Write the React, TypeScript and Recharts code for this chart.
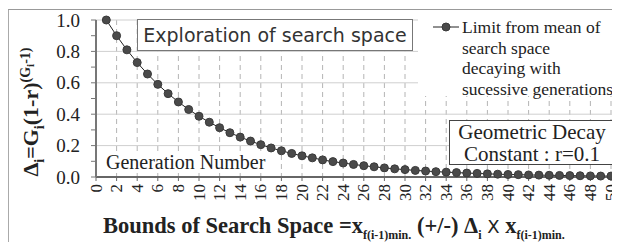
import React from "react";
import { CartesianGrid, Line, LineChart, ReferenceLine, XAxis, YAxis } from "recharts";

const generations = [
  1, 2, 3, 4, 5, 6, 7, 8, 9, 10, 11, 12, 13, 14, 15, 16, 17, 18, 19, 20, 21, 22, 23, 24, 25,
  26, 27, 28, 29, 30, 31, 32, 33, 34, 35, 36, 37, 38, 39, 40, 41, 42, 43, 44, 45, 46, 47, 48, 49, 50,
];
const decayLimit = [
  1.0, 0.9, 0.81, 0.729, 0.656, 0.59, 0.531, 0.478, 0.43, 0.387, 0.349, 0.314, 0.282, 0.254, 0.229,
  0.206, 0.185, 0.167, 0.15, 0.135, 0.122, 0.109, 0.098, 0.089, 0.08, 0.072, 0.065, 0.058, 0.052,
  0.047, 0.042, 0.038, 0.034, 0.031, 0.028, 0.025, 0.023, 0.02, 0.018, 0.016, 0.015, 0.013, 0.012,
  0.011, 0.01, 0.009, 0.008, 0.007, 0.006, 0.006,
];
const xTicks = [0, 2, 4, 6, 8, 10, 12, 14, 16, 18, 20, 22, 24, 26, 28, 30, 32, 34, 36, 38, 40, 42, 44, 46, 48, 50];
const yTicks = [0, 0.1, 0.2, 0.3, 0.4, 0.5, 0.6, 0.7, 0.8, 0.9, 1.0];
const yGrid = [0.2, 0.4, 0.6, 0.8, 1.0];
const legendLines = ["Limit from mean of", "search space", "decaying with", "sucessive generations"];

const data = generations.map((g, i) => ({ g, value: decayLimit[i] }));

const serif = "'Liberation Serif', 'Times New Roman', serif";

function YTick({ x, y, payload }: any) {
  const v = Math.round(payload.value * 10);
  if (v % 2 !== 0) return null;
  return (
    <text x={x} y={y} textAnchor="end" dominantBaseline="central" fontFamily={serif} fontSize={19} fill="#222">
      {payload.value.toFixed(1)}
    </text>
  );
}

function XTick({ x, y, payload }: any) {
  return (
    <text
      x={x}
      y={y}
      transform={`rotate(-90, ${x}, ${y})`}
      textAnchor="end"
      dominantBaseline="central"
      fontFamily={serif}
      fontSize={17}
      fill="#222"
    >
      {payload.value}
    </text>
  );
}

export default function App() {
  return (
    <div style={{ position: "relative", width: 620, height: 242, margin: "-8px 0 0 -8px", background: "#fff", overflow: "hidden" }}>
      <div style={{ position: "absolute", left: 7, top: 9, width: 620, height: 240, borderLeft: "2px solid #aaa", borderTop: "1px solid #999" }} />
      <LineChart width={620} height={242} data={data} margin={{ top: 20, right: 9, bottom: 35, left: 46 }} style={{ position: "absolute", left: 0, top: 0 }}>
        <CartesianGrid horizontal={false} stroke="#b4b4b4" strokeDasharray="5 4" />
        {yGrid.map((v) => (
          <ReferenceLine key={v} y={v} stroke="#cfcfcf" strokeWidth={1} />
        ))}
        <XAxis
          dataKey="g"
          type="number"
          domain={[0, 50]}
          ticks={xTicks}
          interval={0}
          height={30}
          tick={<XTick />}
          tickSize={4}
          tickMargin={3}
          axisLine={{ stroke: "#666", strokeWidth: 2 }}
          tickLine={{ stroke: "#666" }}
        />
        <YAxis
          type="number"
          domain={[0, 1]}
          ticks={yTicks}
          interval={0}
          width={50}
          tick={<YTick />}
          tickSize={5}
          tickMargin={11}
          axisLine={{ stroke: "#777", strokeWidth: 2 }}
          tickLine={{ stroke: "#777" }}
        />
        <Line
          dataKey="value"
          type="linear"
          stroke="#222"
          strokeWidth={1}
          dot={{ r: 4, fill: "#4a4a4a", stroke: "#3a3a3a", strokeWidth: 1 }}
          isAnimationActive={false}
        />
      </LineChart>

      <div
        style={{
          position: "absolute", left: 137, top: 19, width: 274, height: 30, border: "1px solid #777", background: "#fff",
          fontFamily: "'DejaVu Sans', sans-serif", fontSize: 19, color: "#333", textAlign: "center", lineHeight: "30px", whiteSpace: "nowrap",
        }}
      >
        Exploration of search space
      </div>

      <div style={{ position: "absolute", left: 418, top: 11, width: 210, height: 85, background: "#fff" }}>
        <svg width={30} height={20} style={{ position: "absolute", left: 14, top: 6 }}>
          <line x1={1} y1={10} x2={27} y2={10} stroke="#222" strokeWidth={1} />
          <circle cx={14} cy={10} r={4} fill="#4a4a4a" stroke="#3a3a3a" />
        </svg>
        <div style={{ position: "absolute", left: 44, top: 6, fontFamily: serif, fontSize: 17.5, lineHeight: "20.5px", color: "#222", whiteSpace: "nowrap" }}>
          {legendLines.map((l) => (
            <div key={l}>{l}</div>
          ))}
        </div>
      </div>

      <div style={{ position: "absolute", left: 106, top: 152, background: "#fff", fontFamily: serif, fontSize: 20, lineHeight: "21px", color: "#222", whiteSpace: "nowrap" }}>
        Generation Number
      </div>

      <div
        style={{
          position: "absolute", left: 449, top: 120, width: 164, height: 43, border: "1px solid #444", background: "#fff",
          fontFamily: serif, fontSize: 21, lineHeight: "22px", color: "#222", textAlign: "center", whiteSpace: "nowrap",
        }}
      >
        <div>Geometric Decay</div>
        <div>Constant : r=0.1</div>
      </div>

      <div
        style={{
          position: "absolute", left: 33, top: 112, transform: "translate(-50%, -50%) rotate(-90deg)", whiteSpace: "nowrap",
          fontFamily: serif, fontWeight: "bold", fontSize: 22, color: "#222",
        }}
      >
        Δ<sub style={{ fontSize: 14 }}>i</sub>=G<sub style={{ fontSize: 14 }}>i</sub>(1-r)
        <sup style={{ fontSize: 14 }}>
          (G<sub style={{ fontSize: 11 }}>i</sub>-1)
        </sup>
      </div>

      <div
        style={{
          position: "absolute", left: 103, top: 213, lineHeight: "26px", whiteSpace: "nowrap", fontFamily: serif, fontWeight: "bold", fontSize: 22.5, color: "#222",
        }}
      >
        Bounds of Search Space =x<sub style={{ fontSize: 12, lineHeight: 0 }}>f(i-1)min.</sub> (+/-) Δ
        <sub style={{ fontSize: 12, lineHeight: 0 }}>i</sub> <span style={{ fontFamily: "'DejaVu Sans', sans-serif", fontWeight: "normal", fontSize: 18 }}>X</span> x
        <sub style={{ fontSize: 12, lineHeight: 0 }}>f(i-1)min.</sub>
      </div>
    </div>
  );
}
